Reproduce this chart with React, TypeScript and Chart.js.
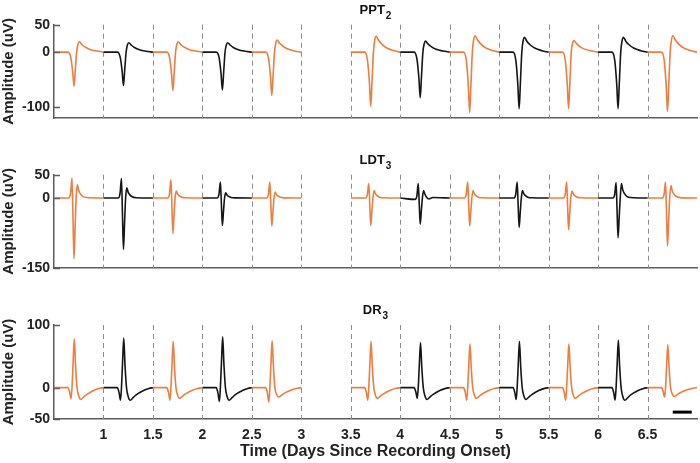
import React, { useEffect, useRef } from 'react';
import { Chart, registerables } from 'chart.js';

Chart.register(...registerables);

const FONT = "'Liberation Sans', Arial, Helvetica, sans-serif";
const ORANGE = '#EE7D3F';
const BLACK = '#151515';
const AXIS = '#5c5c5c';
const DASH = '#8c8c8c';

// ---- shared x layout ----
const xMin = 0.5;
const xMax = 7;
const xTicks = [1, 1.5, 2, 2.5, 3, 3.5, 4, 4.5, 5, 5.5, 6, 6.5];
const xTickLabels = ['1', '1.5', '2', '2.5', '3', '3.5', '4', '4.5', '5', '5.5', '6', '6.5'];
const segmentStarts = [0.5, 1, 1.5, 2, 2.5, 3.5, 4, 4.5, 5, 5.5, 6, 6.5];
const segmentColors = ['o', 'b', 'o', 'b', 'o', 'o', 'b', 'o', 'b', 'o', 'b', 'o'];

// ---- PPT2 ----
const pptOffsets = [0, 0.14, 0.169, 0.189, 0.202, 0.215, 0.229, 0.242, 0.256, 0.28, 0.313, 0.364, 0.432, 0.5];
const pptWaves = [
  [0, 0, -9, -36, -62, -33, 0, 14, 19, 14, 9.5, 5, 2, 0],
  [0, 0, -9, -35, -61, -32, 0, 13, 17, 13, 8.5, 4.4, 1.7, 0],
  [0, 0, -10.5, -41, -70, -37, 0, 14, 19, 14, 9.5, 5, 2, 0],
  [0, 0, -10, -40, -69, -37, 0, 13, 17, 13, 8.5, 4.4, 1.7, 0],
  [0, 0, -12, -46, -79, -42, 0, 16.5, 22, 16.5, 11, 5.7, 2.2, 0],
  [0, 0, -15, -57, -99, -52, 0, 22, 29, 22, 14.5, 7.5, 2.9, 0],
  [0, 0, -12.5, -48, -83, -44, 0, 15, 20, 15, 10, 5.2, 2, 0],
  [0, 0, -16.5, -64, -110, -58, 0, 22.5, 30, 22.5, 15, 7.8, 3, 0],
  [0, 0, -15.5, -60, -103, -55, 0, 20, 27, 20, 13.5, 7, 2.7, 0],
  [0, 0, -15.5, -60, -103, -55, 0, 16, 21, 16, 10.5, 5.5, 2.1, 0],
  [0, 0, -15.5, -60, -103, -55, 0, 20, 27, 20, 13.5, 7, 2.7, 0],
  [0, 0, -16, -63, -108, -57, 0, 22.5, 30, 22.5, 15, 7.8, 3, 0],
];
const pptYTicks = [-100, 0, 50];
const pptYLabels = ['-100', '0', '50'];
const pptYMin = -120;
const pptYMax = 50;

// ---- LDT3 ----
const ldtOffsets = [0, 0.15, 0.168, 0.182, 0.192, 0.202, 0.213, 0.224, 0.236, 0.25, 0.265, 0.29, 0.33, 0.5];
const ldtWaves = [
  [0, 0, 11, 43, -43, -130, -65, 0, 29, 16, 9.5, 3.5, 1, 0],
  [0, 0, 10.5, 42, -34, -110, -55, 0, 22, 12, 7.3, 2.6, 0.7, 0],
  [0, 0, 10, 39, -18, -76, -38, 0, 15, 8.3, 5, 1.8, 0.5, 0],
  [0, 0, 8.5, 34, -12, -59, -29.5, 0, 11, 6, 3.6, 1.3, 0.3, 0],
  [0, 0, 8.5, 34, -13, -60, -30, 0, 13, 7, 4.3, 1.6, 0.4, 0],
  [0, 0, 8, 31, -14, -59, -29.5, 0, 16, 8.8, 5.3, 1.9, 0.5, 0],
  [0, -3, 4, 31, -12, -56, -28, 0, 16, 8, 2, -2, 1, 0],
  [0, 0, 8.5, 34, -13, -60, -30, 0, 16, 8.8, 5.3, 1.9, 0.5, 0],
  [0, 0, 8.5, 34, -14.5, -63, -31.5, 0, 16, 8.8, 5.3, 1.9, 0.5, 0],
  [0, 0, 8.5, 34, -17, -68, -34, 0, 15, 8.3, 5, 1.8, 0.5, 0],
  [0, 0, 8, 33, -26, -85, -42.5, 0, 31, 17, 10, 3.7, 1, 0],
  [0, 0, 8.5, 34, -34, -103, -51.5, 0, 27, 15, 9, 3.2, 0.8, 0],
];
const ldtYTicks = [-150, 0, 50];
const ldtYLabels = ['-150', '0', '50'];
const ldtYMin = -150;
const ldtYMax = 50;

// ---- DR3 ----
const drOffsets = [0, 0.14, 0.158, 0.172, 0.182, 0.193, 0.205, 0.218, 0.233, 0.25, 0.27, 0.3, 0.33, 0.4, 0.46, 0.5];
const drWaves = [
  [0, 0, -7, -18, 0, 39, 78, 35, 0, -13, -19, -15, -11, -4.5, -1, 0],
  [0, 0, -8, -20, 0, 39.5, 79, 35.5, 0, -14, -20, -16, -11.6, -4.8, -1.2, 0],
  [0, 0, -8, -20, 0, 37, 74, 33, 0, -12, -17, -13.6, -9.9, -4.1, -1, 0],
  [0, 0, -9, -22, 0, 40.5, 81, 36.5, 0, -14, -20, -16, -11.6, -4.8, -1.2, 0],
  [0, 0, -9, -23, 0, 37.5, 75, 34, 0, -10.5, -15, -12, -8.7, -3.6, -0.9, 0],
  [0, 0, -8, -20, 0, 37, 74, 33, 0, -12, -17, -13.6, -9.9, -4.1, -1, 0],
  [0, 0, -7, -17, 0, 36, 72, 32.5, 0, -13, -19, -15, -11, -4.6, -1.1, 0],
  [0, 0, -8, -20, 0, 35, 70, 31.5, 0, -12, -17, -13.6, -9.9, -4.1, -1, 0],
  [0, 0, -7.5, -19, 0, 37, 74, 33, 0, -13, -19, -15, -11, -4.6, -1.1, 0],
  [0, 0, -8, -20, 0, 35, 70, 31.5, 0, -12, -17, -13.6, -9.9, -4.1, -1, 0],
  [0, 0, -8, -20, 0, 38, 76, 34, 0, -14, -20, -16, -11.6, -4.8, -1.2, 0],
  [0, 0, -6, -15, 0, 34.5, 69, 31, 0, -10, -14, -11, -8, -3.4, -0.8, 0],
];
const drYTicks = [-50, 0, 100];
const drYLabels = ['-50', '0', '100'];
const drYMin = -50;
const drYMax = 100;

// scale bar (bottom-right of DR3 panel)
const scaleBarX = [6.755, 6.947];
const scaleBarY = -39;

const decorPlugin = {
  id: 'decor',
  beforeDatasetsDraw(chart: any) {
    const { ctx, chartArea: ca, scales } = chart;
    const x = scales.x;
    ctx.save();
    ctx.strokeStyle = DASH;
    ctx.lineWidth = 1;
    ctx.setLineDash([5, 4]);
    for (const v of xTicks) {
      const px = Math.round(x.getPixelForValue(v)) + 0.5;
      ctx.beginPath();
      ctx.moveTo(px, ca.top);
      ctx.lineTo(px, ca.bottom);
      ctx.stroke();
    }
    ctx.restore();
  },
  afterDraw(chart: any, _a: any, opts: any) {
    const { ctx, chartArea: ca, scales } = chart;
    const y = scales.y;
    ctx.save();
    ctx.strokeStyle = AXIS;
    ctx.lineWidth = 1.5;
    for (const v of opts.yTicks) {
      const py = Math.round(y.getPixelForValue(v)) + 0.5;
      ctx.beginPath();
      ctx.moveTo(ca.left, py);
      ctx.lineTo(ca.left + 6, py);
      ctx.stroke();
    }
    // panel title with subscript
    ctx.fillStyle = '#111';
    ctx.textAlign = 'left';
    ctx.textBaseline = 'alphabetic';
    ctx.font = `bold 13px ${FONT}`;
    const mw = ctx.measureText(opts.title).width;
    ctx.font = `bold 10px ${FONT}`;
    const sw = ctx.measureText(opts.sub).width;
    const total = mw + 1 + sw;
    const x0 = (ca.left + ca.right) / 2 - total / 2;
    const base = ca.top - 11;
    ctx.font = `bold 13px ${FONT}`;
    ctx.fillText(opts.title, x0, base);
    ctx.font = `bold 10px ${FONT}`;
    ctx.fillText(opts.sub, x0 + mw + 1, base + 5);
    ctx.restore();
  },
};

function buildDatasets(offsets: number[], waves: number[][]) {
  return waves.map((vals, i) => ({
    data: vals.map((v, j) => ({ x: segmentStarts[i] + offsets[j], y: v })),
    borderColor: segmentColors[i] === 'o' ? ORANGE : BLACK,
    borderWidth: 1.6,
    pointRadius: 0,
    cubicInterpolationMode: 'monotone' as const,
    fill: false,
  }));
}

function makeConfig(p: any) {
  const datasets: any[] = buildDatasets(p.offsets, p.waves);
  if (p.scaleBar) {
    datasets.push({
      data: scaleBarX.map((x) => ({ x, y: scaleBarY })),
      borderColor: '#000',
      borderWidth: 3,
      pointRadius: 0,
      fill: false,
    });
  }
  return {
    type: 'line' as const,
    data: { datasets },
    plugins: [decorPlugin],
    options: {
      responsive: false,
      animation: false as const,
      events: [],
      layout: { padding: { top: p.padTop, right: 3, bottom: p.padBottom, left: 0 } },
      plugins: {
        legend: { display: false },
        tooltip: { enabled: false },
        decor: { yTicks: p.yTicks, title: p.title, sub: p.sub },
      },
      scales: {
        x: {
          type: 'linear',
          min: xMin,
          max: xMax,
          afterBuildTicks: (s: any) => {
            s.ticks = xTicks.map((v) => ({ value: v }));
          },
          afterFit: (s: any) => {
            s.height = p.showX ? 44 : 0;
          },
          grid: { display: false, drawTicks: false },
          border: { display: true, color: AXIS, width: 1.5 },
          ticks: {
            display: p.showX,
            autoSkip: false,
            maxRotation: 0,
            padding: 8,
            color: '#222',
            font: { family: FONT, size: 14, weight: 'bold' },
            callback: (_v: any, i: number) => xTickLabels[i],
          },
          title: {
            display: p.showX,
            text: 'Time (Days Since Recording Onset)',
            color: '#222',
            font: { family: FONT, size: 16, weight: 'bold' },
            padding: { top: 0, bottom: 2 },
          },
        },
        y: {
          type: 'linear',
          min: p.yMin,
          max: p.yMax,
          afterBuildTicks: (s: any) => {
            s.ticks = p.yTicks.map((v: number) => ({ value: v }));
          },
          afterFit: (s: any) => {
            s.width = 54;
          },
          grid: { display: false, drawTicks: false },
          border: { display: true, color: AXIS, width: 1.5 },
          ticks: {
            padding: 4,
            color: '#222',
            font: { family: FONT, size: 14, weight: 'bold' },
            callback: (_v: any, i: number) => p.yLabels[i],
          },
          title: {
            display: true,
            text: 'Amplitude (uV)',
            color: '#222',
            font: { family: FONT, size: 15, weight: 'bold' },
            padding: { top: 0, bottom: 0 },
          },
        },
      },
    },
  };
}

const W = 700;
const H = 463;

const panels = [
  {
    title: 'PPT', sub: '2', offsets: pptOffsets, waves: pptWaves, yTicks: pptYTicks, yLabels: pptYLabels,
    yMin: pptYMin, yMax: pptYMax, padTop: 24.7, padBottom: H - 118, showX: false, scaleBar: false,
  },
  {
    title: 'LDT', sub: '3', offsets: ldtOffsets, waves: ldtWaves, yTicks: ldtYTicks, yLabels: ldtYLabels,
    yMin: ldtYMin, yMax: ldtYMax, padTop: 174.7, padBottom: H - 268, showX: false, scaleBar: false,
  },
  {
    title: 'DR', sub: '3', offsets: drOffsets, waves: drWaves, yTicks: drYTicks, yLabels: drYLabels,
    yMin: drYMin, yMax: drYMax, padTop: 325, padBottom: 0, showX: true, scaleBar: true,
  },
];

export default function App() {
  const r1 = useRef<HTMLCanvasElement>(null);
  const r2 = useRef<HTMLCanvasElement>(null);
  const r3 = useRef<HTMLCanvasElement>(null);

  useEffect(() => {
    const refs = [r1, r2, r3];
    const charts = refs.map((r, i) => new Chart(r.current as HTMLCanvasElement, makeConfig(panels[i]) as any));
    return () => charts.forEach((c) => c.destroy());
  }, []);

  const cs: React.CSSProperties = { position: 'absolute', left: 0, top: 0, width: W, height: H };
  return (
    <div style={{ position: 'fixed', left: 0, top: 0, width: W, height: H, background: '#fff' }}>
      <canvas ref={r1} width={W} height={H} style={cs} />
      <canvas ref={r2} width={W} height={H} style={cs} />
      <canvas ref={r3} width={W} height={H} style={cs} />
    </div>
  );
}
